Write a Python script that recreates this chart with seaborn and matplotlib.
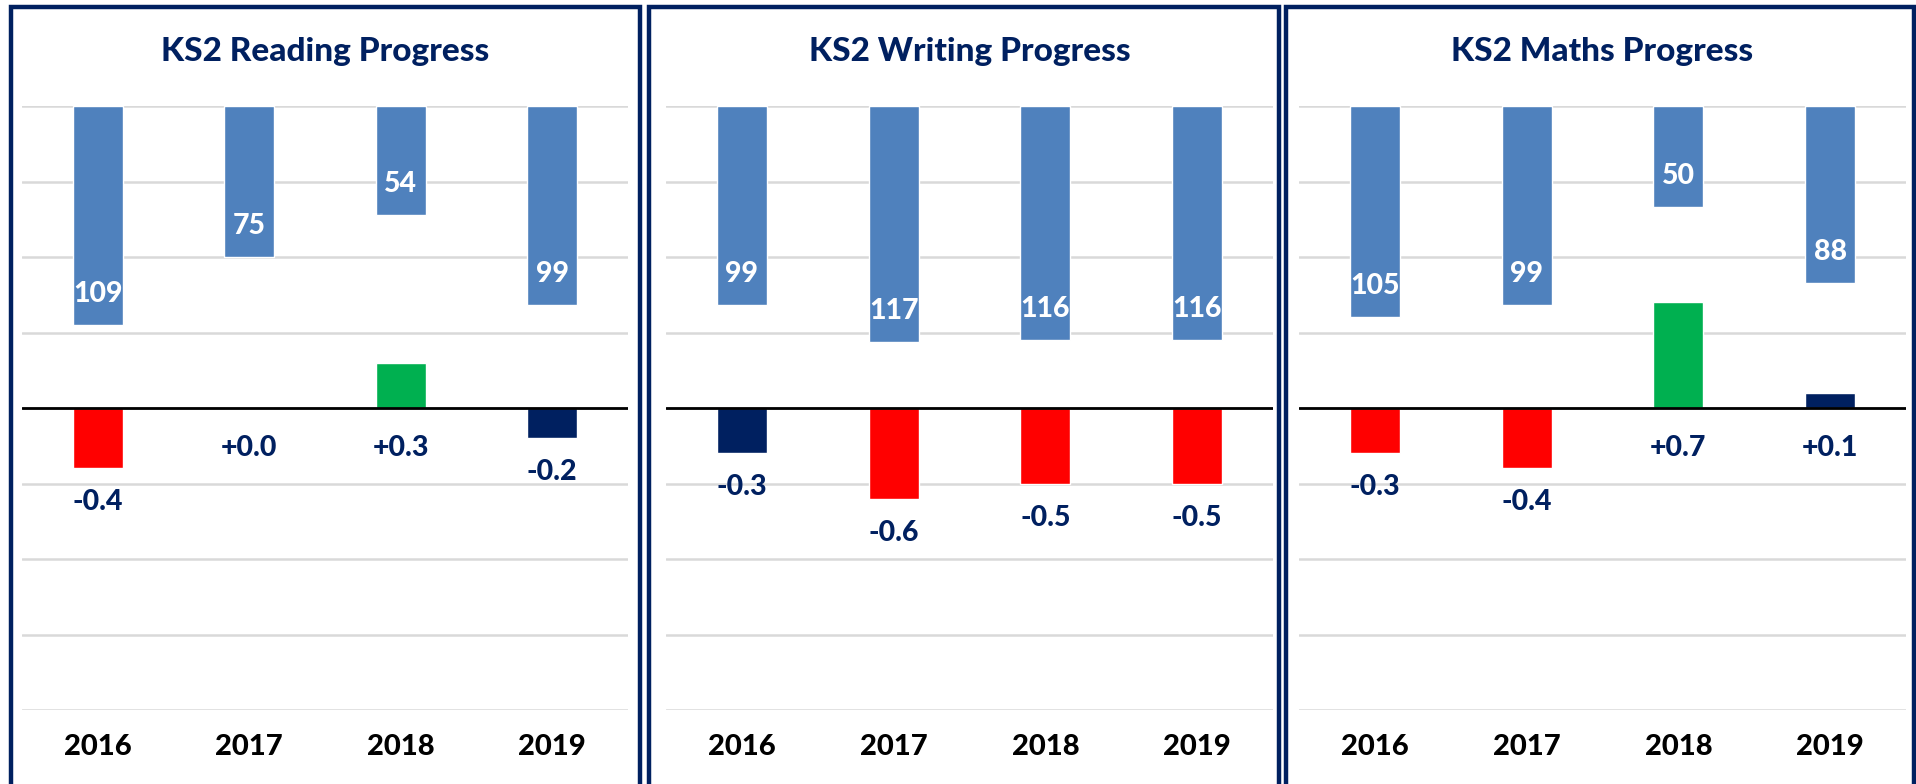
import matplotlib

matplotlib.use("Agg")
import matplotlib.pyplot as plt
import numpy as np
import pandas as pd
import seaborn as sns
from matplotlib.patches import Rectangle

W, H = 1916, 784

years = ["2016", "2017", "2018", "2019"]

reading_cohort = [109, 75, 54, 99]
reading_progress = [-0.4, 0.0, 0.3, -0.2]
reading_band = ["below", "average", "above", "average"]

writing_cohort = [99, 117, 116, 116]
writing_progress = [-0.3, -0.6, -0.5, -0.5]
writing_band = ["average", "below", "below", "below"]

maths_cohort = [105, 99, 50, 88]
maths_progress = [-0.3, -0.4, 0.7, 0.1]
maths_band = ["below", "below", "above", "average"]

titles = ["KS2 Reading Progress", "KS2 Writing Progress", "KS2 Maths Progress"]

NAVY = "#002060"
BLUE = "#4F81BD"
BAND_COLORS = {"below": "#FF0000", "average": NAVY, "above": "#00B050"}
WEIGHT = "black"

# panel frames and plot areas, in pixels (left, right) / (top, bottom)
frames = [(11, 640), (649, 1279), (1286, 1914)]
plots = [(22, 628), (666, 1273), (1299, 1906)]
PLOT_TOP, PLOT_BOTTOM, FRAME_TOP = 106, 710, 7


def _fx(px):
    return px / W


def _fy(py):
    return 1 - py / H


def _panel(fig, idx, cohort, progress, band):
    left, right = plots[idx]
    ax = fig.add_axes([_fx(left), _fy(PLOT_BOTTOM), (right - left) / W, (PLOT_BOTTOM - PLOT_TOP) / H])
    df = pd.DataFrame({"year": years, "cohort": cohort, "progress": progress, "band": band})

    sns.barplot(data=df, x="year", y="progress", hue="band", palette=BAND_COLORS, saturation=1,
                dodge=False, width=0.33, legend=False, ax=ax, zorder=3)
    ax.set_ylim(-2, 2)
    ax.set_xlim(-0.5, 3.5)
    ax.set_yticks(np.arange(-2, 2.01, 0.5))
    ax.yaxis.grid(True, color="#D9D9D9", lw=1.8, zorder=0)
    ax.axhline(0, color="black", lw=2, zorder=4)
    ax.tick_params(axis="y", left=False, right=False, labelleft=False, length=0)
    ax.tick_params(axis="x", bottom=False, length=0, pad=17, labelsize=21, labelcolor="black")
    for lab in ax.get_xticklabels():
        lab.set_fontweight(WEIGHT)
    ax.set_xlabel("")
    ax.set_ylabel("")
    for s in ax.spines.values():
        s.set_visible(False)

    for i, v in enumerate(progress):
        base = v if v < 0 else 0
        off = -34 if v < 0 else -40
        ax.annotate(f"{v:+.1f}", (i, base), xytext=(0, off), textcoords="offset pixels",
                    ha="center", va="center", fontsize=20.5, fontweight=WEIGHT, color=NAVY, zorder=5)

    ax2 = ax.twinx()
    sns.barplot(data=df, x="year", y="cohort", color=BLUE, saturation=1, width=0.33, ax=ax2, zorder=3)
    ax2.set_ylim(300, 0)
    ax2.set_xlim(-0.5, 3.5)
    ax2.tick_params(axis="both", left=False, right=False, bottom=False, length=0,
                    labelright=False, labelleft=False, labelbottom=False)
    ax2.set_ylabel("")
    ax2.set_xlabel("")
    for s in ax2.spines.values():
        s.set_visible(False)
    for i, v in enumerate(cohort):
        ax2.annotate(f"{v}", (i, v), xytext=(0, 31), textcoords="offset pixels",
                     ha="center", va="center", fontsize=20.5, fontweight=WEIGHT, color="white", zorder=5)

    fig.text(_fx((left + right) / 2), _fy(52), titles[idx], ha="center", va="center",
             fontsize=24, fontweight=WEIGHT, color=NAVY)

    fl, fr = frames[idx]
    fig.add_artist(Rectangle((_fx(fl), _fy(H + 20)), (fr - fl) / W, (H + 20 - FRAME_TOP) / H,
                             transform=fig.transFigure, fill=False, ec=NAVY, lw=3.2))


def main():
    sns.set_theme(style="white")
    plt.rcParams["font.family"] = ["Lato", "DejaVu Sans"]

    fig = plt.figure(figsize=(W / 100, H / 100), dpi=100)
    fig.patch.set_facecolor("white")

    _panel(fig, 0, reading_cohort, reading_progress, reading_band)
    _panel(fig, 1, writing_cohort, writing_progress, writing_band)
    _panel(fig, 2, maths_cohort, maths_progress, maths_band)

    fig.savefig("out.png", dpi=100)
    plt.close(fig)


if __name__ == "__main__":
    main()
